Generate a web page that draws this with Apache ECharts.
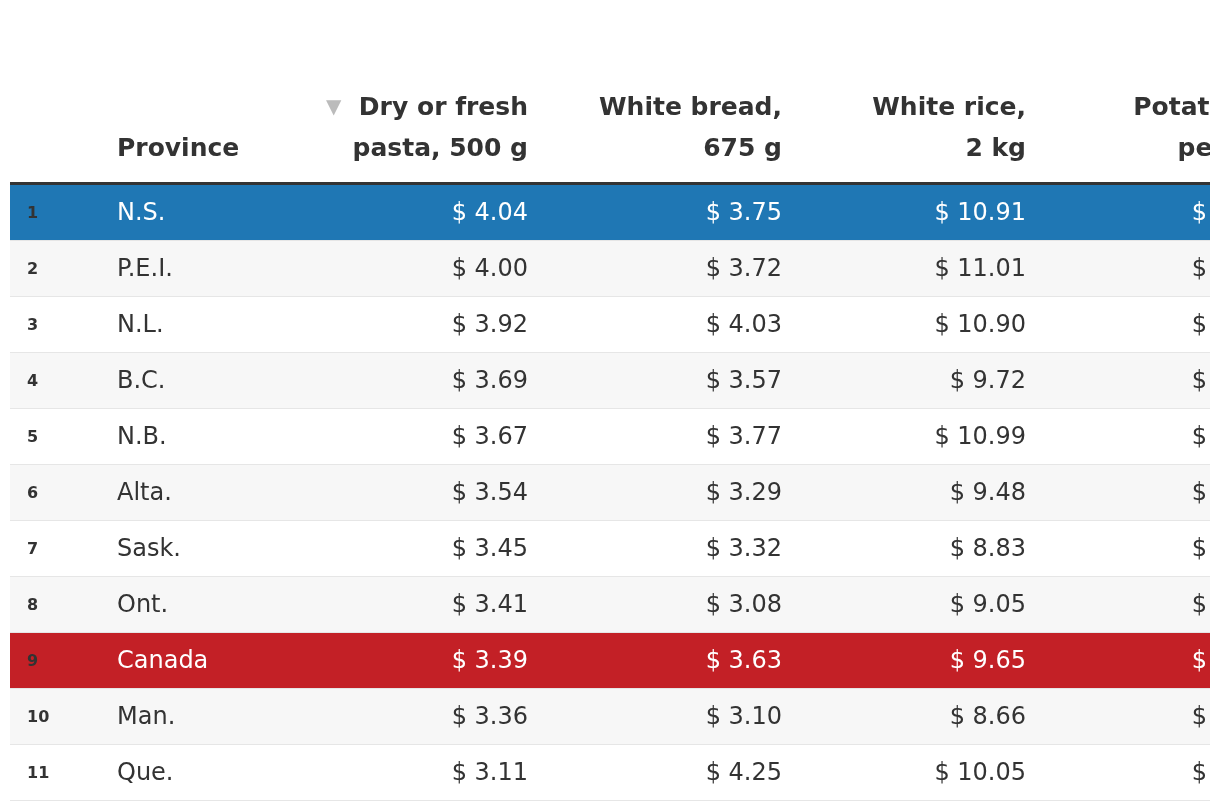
<!DOCTYPE html>
<html><head><meta charset="utf-8">
<script src="https://cdn.jsdelivr.net/npm/echarts@6/dist/echarts.min.js"></script>
<style>html,body{margin:0;padding:0;background:#fff;overflow:hidden}#c{width:1210px;height:810px}</style>
</head><body><div id="c"></div>
<script>
const provinces = ['N.S.','P.E.I.','N.L.','B.C.','N.B.','Alta.','Sask.','Ont.','Canada','Man.','Que.'];
const pasta  = [4.04,4.00,3.92,3.69,3.67,3.54,3.45,3.41,3.39,3.36,3.11];
const bread  = [3.75,3.72,4.03,3.57,3.77,3.29,3.32,3.08,3.63,3.10,4.25];
const rice   = [10.91,11.01,10.90,9.72,10.99,9.48,8.83,9.05,9.65,8.66,10.05];
const potato = [5.20,5.10,5.40,4.90,5.00,4.60,4.80,4.70,4.90,4.70,4.80]; // column clipped in reference, estimated
const headerLine1 = ['', 'Dry or fresh', 'White bread,', 'White rice,', 'Potatoes,'];
const headerLine2 = ['Province', 'pasta, 500 g', '675 g', '2 kg', 'per kg'];
const highlightRows = {'N.S.': '#1f77b4', 'Canada': '#c32026'};

// layout (pixel anchors along the hidden x axis)
const RANK_X = 27, PROV_X = 117;
const VALUE_RIGHT = [528, 782, 1026, 1268];
const FONT = '"DejaVu Sans", sans-serif';
const TEXT = '#333333';

const valueCols = [pasta, bread, rice, potato];
const fmt = v => '$ ' + v.toFixed(2);

const chart = echarts.init(document.getElementById('c'), null, {renderer: 'canvas'});
chart.setOption({
  animation: false,
  backgroundColor: '#ffffff',
  grid: {left: 0, right: 0, top: 81.4, height: 719.6},
  xAxis: {type: 'value', min: 0, max: 1210, show: false},
  yAxis: {type: 'value', inverse: true, min: -1.85, max: 11, show: false},
  series: [
    {
      type: 'custom',
      coordinateSystem: 'cartesian2d',
      encode: {x: 0, y: 1},
      data: provinces.map((p, i) => [0, i]),
      renderItem: function (params, api) {
        const i = params.dataIndex;
        const top = api.coord([0, i])[1];
        const bot = api.coord([0, i + 1])[1];
        const x0 = api.coord([10, 0])[0];
        const x1 = api.coord([1210, 0])[0];
        const cy = (top + bot) / 2 + 1;
        const name = provinces[i];
        const hl = highlightRows[name];
        const bg = hl || (i % 2 === 1 ? '#f7f7f7' : '#ffffff');
        const fg = hl ? '#ffffff' : TEXT;
        const children = [
          {type: 'rect', shape: {x: x0, y: top, width: x1 - x0, height: bot - top}, style: {fill: bg}},
          {type: 'line', shape: {x1: x0, y1: bot - 0.5, x2: x1, y2: bot - 0.5}, style: {stroke: '#e6e6e6', lineWidth: 1}},
          {type: 'text', style: {text: String(i + 1), x: api.coord([RANK_X, 0])[0], y: cy, fill: TEXT,
            font: 'bold 16px ' + FONT, align: 'left', verticalAlign: 'middle'}},
          {type: 'text', style: {text: name, x: api.coord([PROV_X, 0])[0], y: cy, fill: fg,
            font: '24px ' + FONT, align: 'left', verticalAlign: 'middle'}}
        ];
        valueCols.forEach((col, k) => {
          children.push({type: 'text', style: {text: fmt(col[i]), x: api.coord([VALUE_RIGHT[k], 0])[0], y: cy, fill: fg,
            font: '24px ' + FONT, align: 'right', verticalAlign: 'middle'}});
        });
        return {type: 'group', children: children};
      }
    },
    {
      type: 'custom',
      coordinateSystem: 'cartesian2d',
      encode: {x: 0, y: 1},
      data: [[0, -1]],
      renderItem: function (params, api) {
        const y0 = api.coord([0, 0])[1];
        const x0 = api.coord([10, 0])[0];
        const x1 = api.coord([1210, 0])[0];
        const children = [
          {type: 'rect', shape: {x: x0, y: y0 - 3, width: x1 - x0, height: 3}, style: {fill: '#333333'}}
        ];
        const anchors = [PROV_X].concat(VALUE_RIGHT);
        headerLine2.forEach((t, k) => {
          const ax = api.coord([anchors[k], 0])[0];
          const align = k === 0 ? 'left' : 'right';
          if (headerLine1[k]) {
            const txt = k === 1 ? '{t|▼}  ' + headerLine1[k] : headerLine1[k];
            children.push({type: 'text', style: {text: txt, x: ax, y: y0 - 77, fill: TEXT,
              font: 'bold 25px ' + FONT, align: align, verticalAlign: 'middle',
              rich: {t: {fill: '#bbbbbb', fontSize: 20, fontFamily: FONT}}}});
          }
          children.push({type: 'text', style: {text: t, x: ax, y: y0 - 36, fill: TEXT,
            font: 'bold 25px ' + FONT, align: align, verticalAlign: 'middle'}});
        });
        return {type: 'group', children: children};
      }
    }
  ]
});
</script>
</body></html>
